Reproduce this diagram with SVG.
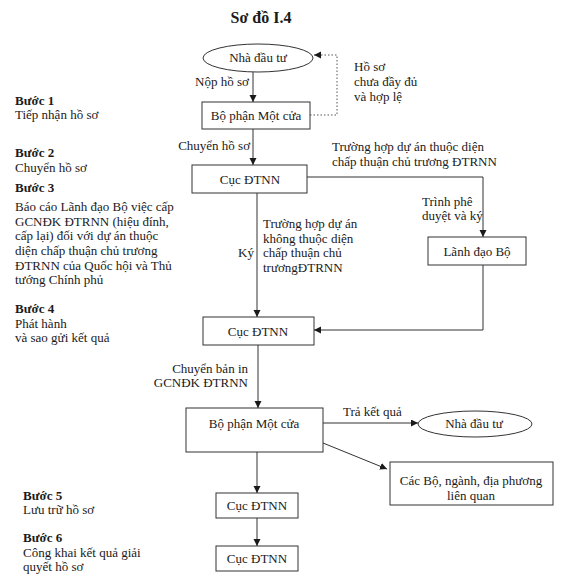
<svg xmlns="http://www.w3.org/2000/svg" width="575" height="583" viewBox="0 0 575 583">
<style>
text{font-family:"Liberation Serif","Times New Roman",serif;font-size:13px;fill:#1a1a1a}
.b{font-weight:bold}
.t{font-weight:bold;font-size:16px}
.c{text-anchor:middle}
.e{text-anchor:end}
.n{fill:#fff;stroke:#333;stroke-width:1}
.l{fill:none;stroke:#333;stroke-width:1}
.d{fill:none;stroke:#555;stroke-width:1;stroke-dasharray:1.5 2}
</style>
<defs>
<marker id="a" markerUnits="userSpaceOnUse" markerWidth="8" markerHeight="8" refX="7" refY="3.5" orient="auto"><path d="M0,0 L7,3.5 L0,7 Z" fill="#1a1a1a"/></marker>
</defs>
<rect width="575" height="583" fill="#fff"/>
<text class="t c" x="261" y="23">Sơ đồ I.4</text>
<g id="steps">
<text class="b" x="15" y="105">Bước 1</text>
<text x="15" y="119">Tiếp nhận hồ sơ</text>
<text class="b" x="15" y="157">Bước 2</text>
<text x="15" y="172">Chuyển hồ sơ</text>
<text class="b" x="15" y="192">Bước 3</text>
<text x="15" y="211">Báo cáo Lãnh đạo Bộ việc cấp</text>
<text x="15" y="226">GCNĐK ĐTRNN (hiệu đính,</text>
<text x="15" y="240">cấp lại) đối với dự án thuộc</text>
<text x="15" y="255">diện chấp thuận chủ trương</text>
<text x="15" y="270">ĐTRNN của Quốc hội và Thủ</text>
<text x="15" y="284">tướng Chính phủ</text>
<text class="b" x="15" y="313">Bước 4</text>
<text x="15" y="328">Phát hành</text>
<text x="15" y="342">và sao gửi kết quả</text>
<text class="b" x="23" y="500">Bước 5</text>
<text x="23" y="514">Lưu trữ hồ sơ</text>
<text class="b" x="23" y="542">Bước 6</text>
<text x="23" y="557">Công khai kết quả giải</text>
<text x="23" y="571">quyết hồ sơ</text>
</g>
<g id="connectors">
<line class="l" x1="253" y1="72" x2="253" y2="102" marker-end="url(#a)"/>
<path class="d" d="M310 115 H337 V55 H314" marker-end="url(#a)"/>
<line class="l" x1="253" y1="129" x2="253" y2="165" marker-end="url(#a)"/>
<path class="l" d="M307 177 H483 V237" marker-end="url(#a)"/>
<line class="l" x1="257" y1="193" x2="257" y2="317" marker-end="url(#a)"/>
<path class="l" d="M483 265 V330 H314" marker-end="url(#a)"/>
<line class="l" x1="258" y1="345" x2="258" y2="408" marker-end="url(#a)"/>
<line class="l" x1="323" y1="423" x2="418" y2="423" marker-end="url(#a)"/>
<line class="l" x1="323" y1="443" x2="387" y2="469" marker-end="url(#a)"/>
<line class="l" x1="257" y1="452" x2="257" y2="493" marker-end="url(#a)"/>
<line class="l" x1="257" y1="518" x2="257" y2="546" marker-end="url(#a)"/>
<text x="195" y="86">Nộp hồ sơ</text>
<text x="354" y="71">Hồ sơ</text>
<text x="354" y="86">chưa đầy đủ</text>
<text x="354" y="101">và hợp lệ</text>
<text class="e" x="250" y="150">Chuyển hồ sơ</text>
<text x="332" y="151">Trường hợp dự án thuộc diện</text>
<text x="332" y="166">chấp thuận chủ trương ĐTRNN</text>
<text x="422" y="206">Trình phê</text>
<text x="422" y="220">duyệt và ký</text>
<text x="263" y="228">Trường hợp dự án</text>
<text x="263" y="243">không thuộc diện</text>
<text x="263" y="257">chấp thuận chủ</text>
<text x="263" y="272">trươngĐTRNN</text>
<text x="238" y="257">Ký</text>
<text class="e" x="248" y="373">Chuyển bản in</text>
<text class="e" x="248" y="387">GCNĐK ĐTRNN</text>
<text x="343" y="416">Trả kết quả</text>
</g>
<g id="n1"><ellipse class="n" cx="258" cy="58" rx="55" ry="14"/><text class="c" x="258" y="62">Nhà đầu tư</text></g>
<g id="n2"><rect class="n" x="202" y="102" width="108" height="27"/><text class="c" x="256" y="120">Bộ phận Một cửa</text></g>
<g id="n3"><rect class="n" x="192" y="165" width="115" height="28"/><text class="c" x="250" y="183.5">Cục ĐTNN</text></g>
<g id="n4"><rect class="n" x="428" y="237" width="98" height="28"/><text class="c" x="477" y="255.5">Lãnh đạo Bộ</text></g>
<g id="n5"><rect class="n" x="203" y="317" width="111" height="28"/><text class="c" x="258" y="335.5">Cục ĐTNN</text></g>
<g id="n6"><rect class="n" x="186" y="408" width="137" height="44"/><text class="c" x="254" y="428">Bộ phận Một cửa</text></g>
<g id="n7"><ellipse class="n" cx="475" cy="424" rx="57" ry="13"/><text class="c" x="474" y="428">Nhà đầu tư</text></g>
<g id="n8"><rect class="n" x="390" y="462" width="163" height="43"/><text class="c" x="471" y="485">Các Bộ, ngành, địa phương</text><text class="c" x="471" y="500">liên quan</text></g>
<g id="n9"><rect class="n" x="216" y="493" width="82" height="25"/><text class="c" x="257" y="510">Cục ĐTNN</text></g>
<g id="n10"><rect class="n" x="216" y="546" width="82" height="25"/><text class="c" x="257" y="563">Cục ĐTNN</text></g>
</svg>
